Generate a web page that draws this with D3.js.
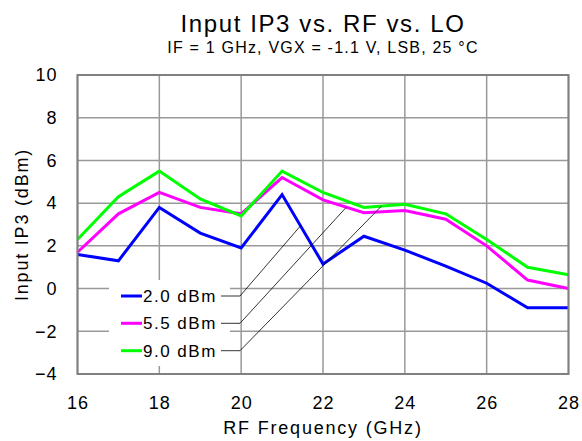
<!DOCTYPE html>
<html>
<head>
<meta charset="utf-8">
<script src="https://cdn.jsdelivr.net/npm/d3@7"></script>
<style>
  body { margin: 0; background: #fff; }
  text { font-family: "Liberation Sans", Arial, sans-serif; fill: #000; }
</style>
</head>
<body>
<svg id="chart"></svg>
<script>
// data
var freqs = [16, 17, 18, 19, 20, 21, 22, 23, 24, 25, 26, 27, 28];
var lo20 = [1.6, 1.3, 3.8, 2.6, 1.9, 4.4, 1.15, 2.45, 1.8, 1.05, 0.25, -0.9, -0.9];
var lo55 = [1.7, 3.5, 4.5, 3.8, 3.5, 5.2, 4.15, 3.55, 3.65, 3.25, 2.0, 0.4, 0.0];
var lo90 = [2.3, 4.3, 5.5, 4.2, 3.4, 5.5, 4.5, 3.8, 3.95, 3.5, 2.3, 1.0, 0.65];
var seriesNames = ["2.0 dBm", "5.5 dBm", "9.0 dBm"];
var seriesColors = ["#0000ff", "#ff00ff", "#00ff00"];
var leaderFreq = [21.45, 22.57, 23.43];
var xTicks = [16, 18, 20, 22, 24, 26, 28];
var yTicks = [-4, -2, 0, 2, 4, 6, 8, 10];

var width = 582, height = 441;
var margin = { top: 75, right: 13.5, bottom: 67, left: 77.5 };

var svg = d3.select("#chart")
  .attr("width", width)
  .attr("height", height);

var x = d3.scaleLinear().domain([16, 28]).range([margin.left, width - margin.right]);
var y = d3.scaleLinear().domain([-4, 10]).range([height - margin.bottom, margin.top]);

// grid
svg.append("g")
  .selectAll("line")
  .data(xTicks)
  .enter().append("line")
  .attr("x1", d => x(d)).attr("x2", d => x(d))
  .attr("y1", y(-4)).attr("y2", y(10))
  .attr("stroke", "#999").attr("stroke-width", 1.5);

svg.append("g")
  .selectAll("line")
  .data(yTicks)
  .enter().append("line")
  .attr("x1", x(16)).attr("x2", x(28))
  .attr("y1", d => y(d)).attr("y2", d => y(d))
  .attr("stroke", "#999").attr("stroke-width", 1.5);

// tick labels
var xAxis = d3.axisBottom(x).tickValues(xTicks).tickSize(0).tickPadding(22);
svg.append("g")
  .attr("transform", `translate(0,${y(-4)})`)
  .call(xAxis)
  .call(g => g.select(".domain").remove())
  .selectAll("text")
  .style("font-size", "18px")
  .style("letter-spacing", "1px")
  .style("font-family", "Liberation Sans, Arial, sans-serif");

var yAxis = d3.axisLeft(y).tickValues(yTicks).tickSize(0).tickPadding(20);
svg.append("g")
  .attr("transform", `translate(${x(16)},0)`)
  .call(yAxis)
  .call(g => g.select(".domain").remove())
  .selectAll("text")
  .style("font-size", "18px")
  .style("letter-spacing", "1px")
  .style("font-family", "Liberation Sans, Arial, sans-serif");

// legend box covers the grid
svg.append("rect")
  .attr("x", 109).attr("y", 280)
  .attr("width", 121).attr("height", 86)
  .attr("fill", "#fff");

// curves
var allSeries = [lo20, lo55, lo90];
var line = d3.line()
  .x((d, i) => x(freqs[i]))
  .y(d => y(d));

svg.append("g")
  .selectAll("path")
  .data(allSeries)
  .enter().append("path")
  .attr("d", d => line(d))
  .attr("fill", "none")
  .attr("stroke", (d, i) => seriesColors[i])
  .attr("stroke-width", 3);

// plot frame
svg.append("rect")
  .attr("x", x(16)).attr("y", y(10))
  .attr("width", x(28) - x(16)).attr("height", y(-4) - y(10))
  .attr("fill", "none")
  .attr("stroke", "#808080")
  .attr("stroke-width", 2);

// legend
var legendY = [296, 323.3, 350.7];
var lg = svg.append("g");
seriesNames.forEach(function(name, i) {
  lg.append("line")
    .attr("x1", 121).attr("x2", 142)
    .attr("y1", legendY[i]).attr("y2", legendY[i])
    .attr("stroke", seriesColors[i]).attr("stroke-width", 3);
  lg.append("text")
    .attr("x", 143).attr("y", legendY[i] + 6)
    .style("font-size", "17px")
    .style("letter-spacing", "1.5px")
    .text(name);

  // leader line to the curve
  var s = allSeries[i];
  var f = leaderFreq[i];
  var k = Math.floor(f) - 16;
  var v = s[k] + (s[k + 1] - s[k]) * (f - freqs[k]);
  lg.append("polyline")
    .attr("points", `221,${legendY[i]} 240,${legendY[i]} ${x(f)},${y(v)}`)
    .attr("fill", "none")
    .attr("stroke", "#000")
    .attr("stroke-width", 0.8);
});

// titles
var cx = (x(16) + x(28)) / 2;
svg.append("text")
  .attr("x", cx).attr("y", 32)
  .attr("text-anchor", "middle")
  .style("font-size", "24px")
  .style("letter-spacing", "1.6px")
  .text("Input IP3 vs. RF vs. LO");

svg.append("text")
  .attr("x", cx).attr("y", 53)
  .attr("text-anchor", "middle")
  .style("font-size", "16px")
  .style("letter-spacing", "1.2px")
  .text("IF = 1 GHz, VGX = -1.1 V, LSB, 25 \u00B0C");

svg.append("text")
  .attr("x", cx).attr("y", 434)
  .attr("text-anchor", "middle")
  .style("font-size", "18px")
  .style("letter-spacing", "1.8px")
  .text("RF Frequency (GHz)");

svg.append("text")
  .attr("transform", `translate(28,${(y(-4) + y(10)) / 2}) rotate(-90)`)
  .attr("text-anchor", "middle")
  .style("font-size", "18px")
  .style("letter-spacing", "1.8px")
  .text("Input IP3 (dBm)");
</script>
</body>
</html>
